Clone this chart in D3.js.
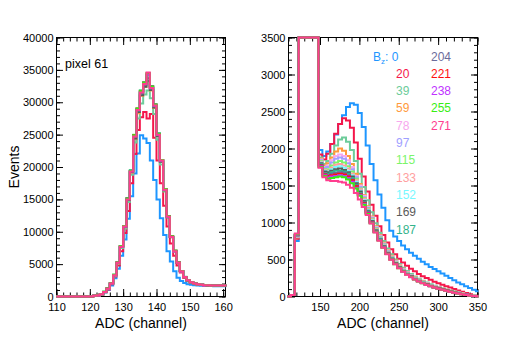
<!DOCTYPE html>
<html>
<head>
<meta charset="utf-8">
<script src="https://cdn.jsdelivr.net/npm/d3@7/dist/d3.min.js"></script>
<style>
  body { margin: 0; background: #fff; }
  text { font-family: "Liberation Sans", Arial, Helvetica, sans-serif; }
</style>
</head>
<body>
<script>
// field values (legend) and their colours, drawn in this order
var fields = ["0","20","39","59","78","97","115","133","152","169","187","204","221","238","255","271"];
var colors = ["#1e96ff","#f5164a","#6dcc9a","#ff9a3c","#f7a8ee","#a0a0ff","#7af56a","#ff9f9f",
              "#78f8ff","#5a5a5a","#33b38a","#6b6b9b","#ff1010","#c032ff","#38ee14","#ff3d8f"];

// left panel: pixel 61, 1-channel bins starting at 110
var leftStart = 110, leftWidth = 1;
var left_0   = [0,0,0,0,0,0,0,0,0,0,0, 80,180,330,600,1000,1700,2800,4300,6300,8800,12000,15500,19000,22100,24900,24400,23700,21000,18000,15000,12100,9500,7000,5400,3900,2900,2400,2100,1900,1800,1720,1680,1650,1630,1620,1610,1600,1600,1600,1600];
var left_20  = [0,0,0,0,0,0,0,0,0,0,0, 100,200,350,650,1100,1900,3100,4800,7000,9800,13200,17500,22000,25700,27700,28500,27500,28200,24500,21000,17500,14000,10800,8200,6300,4800,3700,2900,2400,2100,1950,1850,1780,1720,1700,1680,1670,1660,1660,1660];
var left_39  = [0,0,0,0,0,0,0,0,0,0,0, 100,200,350,650,1150,1950,3200,5100,7500,10500,14600,18800,23800,27500,29800,31200,31800,30600,28200,24200,20400,16200,12200,9200,7000,5200,3950,3050,2550,2250,2050,1930,1830,1770,1740,1720,1700,1690,1690,1690];
var left_59  = [0,0,0,0,0,0,0,0,0,0,0, 100,200,360,690,1180,1990,3280,5150,7650,10700,14900,19100,24400,28300,31000,32400,33200,31800,29100,24800,20800,16400,12300,9200,7000,5200,3900,3000,2520,2220,2020,1910,1810,1760,1730,1710,1700,1690,1690,1690];
var left_78  = [0,0,0,0,0,0,0,0,0,0,0, 100,210,350,700,1200,2010,3300,5200,7700,10800,15000,19200,24500,28600,31300,32600,33600,32000,29300,24900,20900,16500,12300,9200,7000,5200,3900,3000,2500,2200,2000,1900,1800,1750,1720,1700,1690,1680,1680,1680];
var left_97  = [0,0,0,0,0,0,0,0,0,0,0, 100,200,350,700,1200,2000,3300,5200,7700,10800,15100,19400,24800,28900,31600,32900,33900,32300,29500,25000,21000,16500,12300,9200,7000,5200,3900,3000,2500,2200,2000,1900,1800,1750,1720,1700,1690,1680,1680,1680];
var left_115 = [0,0,0,0,0,0,0,0,0,0,0, 110,220,370,720,1230,2050,3350,5300,7800,10900,15200,19500,25000,29100,31800,33100,34200,32500,29700,25200,21100,16600,12400,9300,7050,5250,3920,3020,2510,2210,2010,1900,1810,1760,1720,1700,1690,1690,1680,1680];
var left_133 = [0,0,0,0,0,0,0,0,0,0,0, 100,200,350,700,1200,2000,3300,5200,7700,10800,15000,19300,24600,28700,31400,32700,33800,32100,29400,24900,20900,16500,12300,9200,7000,5200,3900,3000,2500,2200,2000,1900,1800,1750,1720,1700,1690,1680,1680,1680];
var left_152 = [0,0,0,0,0,0,0,0,0,0,0, 100,210,360,710,1210,2020,3320,5250,7750,10850,15100,19400,24800,28900,31600,32900,34000,32300,29600,25100,21000,16600,12400,9250,7050,5250,3930,3020,2510,2210,2010,1910,1810,1760,1730,1710,1700,1690,1690,1690];
var left_169 = [0,0,0,0,0,0,0,0,0,0,0, 100,200,350,690,1190,1990,3280,5180,7650,10750,14900,19200,24400,28500,31100,32400,33300,31900,29200,24800,20800,16400,12250,9150,6980,5180,3890,2990,2490,2190,1990,1890,1790,1740,1710,1700,1690,1680,1680,1680];
var left_187 = [0,0,0,0,0,0,0,0,0,0,0, 110,220,370,720,1230,2040,3340,5280,7800,10900,15200,19500,24900,29000,31800,33100,34300,32500,29700,25200,21100,16600,12400,9300,7050,5250,3920,3020,2510,2210,2010,1900,1810,1760,1720,1700,1690,1690,1680,1680];
var left_204 = [0,0,0,0,0,0,0,0,0,0,0, 100,200,350,700,1200,2000,3300,5200,7700,10800,15000,19300,24700,28700,31400,32700,33700,32100,29400,25000,20900,16500,12300,9200,7000,5200,3900,3000,2500,2200,2000,1900,1800,1750,1720,1700,1690,1680,1680,1680];
var left_221 = [0,0,0,0,0,0,0,0,0,0,0, 110,210,360,710,1220,2030,3330,5250,7780,10900,15100,19400,24900,29000,31700,33000,34400,32400,29600,25100,21100,16600,12400,9250,7050,5250,3920,3010,2510,2210,2010,1900,1810,1760,1730,1710,1700,1690,1690,1690];
var left_238 = [0,0,0,0,0,0,0,0,0,0,0, 100,200,350,700,1200,2010,3310,5220,7720,10820,15050,19350,24800,28900,31600,32900,34200,32300,29500,25000,21000,16500,12300,9200,7000,5200,3900,3000,2500,2200,2000,1900,1800,1750,1720,1700,1690,1680,1680,1680];
var left_255 = [0,0,0,0,0,0,0,0,0,0,0, 110,220,360,720,1230,2040,3340,5270,7780,10880,15100,19400,24900,29000,31700,33000,34500,32400,29600,25100,21100,16600,12400,9250,7050,5250,3920,3020,2510,2210,2010,1910,1810,1760,1730,1710,1700,1690,1690,1690];
var left_271 = [0,0,0,0,0,0,0,0,0,0,0, 100,200,350,700,1200,2000,3300,5200,7700,10800,15000,19300,24700,28800,31500,32800,34600,32200,29500,25000,21000,16500,12300,9200,7000,5200,3900,3000,2500,2200,2000,1900,1800,1750,1720,1700,1690,1680,1680,1680];
var leftSeries = [left_0,left_20,left_39,left_59,left_78,left_97,left_115,left_133,left_152,left_169,left_187,left_204,left_221,left_238,left_255,left_271];

// right panel: 5-channel bins starting at 108
var rightStart = 108, rightWidth = 5;
var right_0   = [0,20,750,8800,11500,10500,8600,5800, 1980,1900,1960,2060,2190,2330,2450,2560,2610,2590,2480,2290,2040,1790,1570,1380,1200,1030,890,810,750,690,640,590,550,510,470,435,400,370,340,310,280,250,220,190,165,140,115,90,70];
var right_20  = [0,20,780,9000,11800,10800,8800,5900, 1920,1850,1930,2060,2200,2330,2410,2380,2280,2080,1860,1620,1420,1240,1090,950,830,730,640,570,510,460,415,375,340,305,275,250,225,200,180,160,140,120,100,82,65,48,32,18,10];
var right_39  = [0,20,800,9100,12000,11000,9000,6000, 1880,1790,1830,1930,2040,2120,2150,2090,1980,1830,1660,1480,1300,1140,990,860,750,650,570,500,440,390,345,305,270,240,212,188,165,145,128,112,96,82,68,55,42,30,20,11,6];
var right_59  = [0,20,800,9100,12000,11000,9000,6000, 1860,1770,1800,1880,1960,2000,1970,1900,1790,1660,1520,1370,1220,1080,950,830,725,630,550,485,425,375,330,292,258,228,202,178,157,138,121,106,91,78,65,52,40,29,19,10,5];
var right_78  = [0,20,810,9200,12100,11100,9100,6000, 1850,1750,1770,1840,1900,1920,1900,1840,1750,1630,1500,1360,1210,1070,940,820,715,620,540,475,418,368,325,288,255,225,199,175,155,136,119,104,90,77,64,51,39,28,18,10,5];
var right_97  = [0,20,810,9200,12100,11100,9100,6000, 1840,1740,1750,1810,1860,1880,1860,1800,1720,1610,1480,1340,1200,1060,930,810,705,612,533,468,412,363,320,284,251,222,196,172,152,134,117,102,88,75,62,50,38,27,17,9,5];
var right_115 = [0,20,820,9300,12200,11200,9200,6100, 1830,1720,1720,1770,1810,1830,1810,1760,1690,1590,1460,1330,1190,1050,920,800,698,606,528,463,408,359,317,281,248,219,193,170,150,132,115,100,86,73,60,48,37,26,16,9,4];
var right_133 = [0,20,820,9300,12200,11200,9200,6100, 1820,1710,1700,1740,1780,1790,1770,1730,1660,1570,1450,1320,1180,1040,910,795,692,601,523,459,404,356,314,278,245,216,191,168,148,130,113,98,85,72,59,47,36,25,16,8,4];
var right_152 = [0,20,825,9300,12300,11300,9200,6100, 1810,1700,1690,1720,1750,1760,1740,1700,1640,1550,1430,1300,1170,1030,900,788,686,596,518,455,400,352,311,275,243,214,189,166,146,128,111,97,84,71,58,46,35,25,15,8,4];
var right_169 = [0,20,825,9300,12300,11300,9200,6100, 1800,1690,1680,1700,1720,1730,1710,1680,1620,1530,1420,1290,1160,1020,895,782,681,591,514,451,396,349,308,272,240,212,187,164,144,126,110,96,83,70,57,45,34,24,15,8,4];
var right_187 = [0,20,830,9400,12400,11400,9300,6200, 1790,1670,1660,1680,1700,1700,1690,1660,1600,1510,1400,1280,1150,1010,888,776,676,587,510,447,393,346,305,270,238,210,185,163,143,125,109,95,82,69,56,44,33,23,14,7,4];
var right_204 = [0,20,830,9400,12400,11400,9300,6200, 1780,1660,1640,1660,1670,1680,1670,1640,1580,1500,1390,1270,1140,1005,882,770,671,583,507,444,390,343,303,268,236,208,184,162,142,124,108,94,81,68,55,44,33,23,14,7,4];
var right_221 = [0,20,835,9400,12400,11400,9300,6200, 1770,1650,1630,1640,1650,1660,1650,1620,1570,1490,1380,1260,1130,1000,876,765,667,579,504,441,387,341,301,266,234,207,183,161,141,123,107,93,80,67,55,43,32,22,13,7,3];
var right_238 = [0,20,835,9500,12500,11500,9400,6200, 1760,1640,1610,1620,1630,1640,1630,1600,1550,1470,1370,1250,1120,995,872,762,664,576,502,439,385,339,299,264,233,206,182,160,140,122,106,92,79,67,54,43,32,22,13,6,3];
var right_255 = [0,20,840,9500,12500,11500,9400,6200, 1750,1630,1590,1600,1610,1620,1610,1580,1530,1460,1360,1240,1115,990,868,758,660,573,500,437,383,337,297,262,231,204,180,158,139,121,105,91,78,66,53,42,31,21,12,6,3];
var right_271 = [0,20,850,9600,12600,11600,9500,6300, 1740,1610,1570,1560,1560,1550,1540,1510,1470,1400,1310,1210,1100,985,865,755,658,571,498,435,381,335,295,260,229,202,178,157,138,120,104,90,77,65,52,41,30,21,12,6,3];
var rightSeries = [right_0,right_20,right_39,right_59,right_78,right_97,right_115,right_133,right_152,right_169,right_187,right_204,right_221,right_238,right_255,right_271];

// tick labels
var leftXTicks = [110,120,130,140,150,160];
var leftYTicks = [0,5000,10000,15000,20000,25000,30000,35000,40000];
var rightXTicks = [150,200,250,300,350];
var rightYTicks = [0,500,1000,1500,2000,2500,3000,3500];

var svg = d3.select("body").append("svg")
    .attr("width", 507)
    .attr("height", 345);

var clipCount = 0;

function histPoints(vals, start, width){
    var pts = vals.map(function(v, i){ return [start + i * width, v]; });
    pts.push([start + vals.length * width, vals[vals.length - 1]]);
    return pts;
}

function styleAxis(g){
    g.select(".domain").remove();
    g.selectAll("line").attr("stroke", "#000").attr("stroke-width", 1);
    g.selectAll("text")
        .attr("font-size", 11)
        .attr("font-family", "'Liberation Sans', Arial, sans-serif")
        .attr("fill", "#000");
}

function drawPanel(p){
    var x = d3.scaleLinear().domain(p.xDomain).range([p.x0, p.x1]);
    var y = d3.scaleLinear().domain(p.yDomain).range([p.y1, p.y0]).clamp(true);
    var g = svg.append("g");

    // minor ticks (inside, all four sides)
    g.append("g").attr("transform", "translate(0," + p.y1 + ")")
        .call(d3.axisBottom(x).tickValues(p.xMinor).tickSize(-4).tickFormat("")).call(styleAxis);
    g.append("g").attr("transform", "translate(0," + p.y0 + ")")
        .call(d3.axisTop(x).tickValues(p.xMinor).tickSize(-4).tickFormat("")).call(styleAxis);
    g.append("g").attr("transform", "translate(" + p.x0 + ",0)")
        .call(d3.axisLeft(y).tickValues(p.yMinor).tickSize(-3.5).tickFormat("")).call(styleAxis);
    g.append("g").attr("transform", "translate(" + p.x1 + ",0)")
        .call(d3.axisRight(y).tickValues(p.yMinor).tickSize(-3.5).tickFormat("")).call(styleAxis);

    // major ticks with labels
    g.append("g").attr("transform", "translate(0," + p.y1 + ")")
        .call(d3.axisBottom(x).tickValues(p.xTicks).tickSize(-7.5).tickPadding(7).tickFormat(d3.format("d")))
        .call(styleAxis);
    g.append("g").attr("transform", "translate(0," + p.y0 + ")")
        .call(d3.axisTop(x).tickValues(p.xTicks).tickSize(-7.5).tickFormat("")).call(styleAxis);
    g.append("g").attr("transform", "translate(" + p.x0 + ",0)")
        .call(d3.axisLeft(y).tickValues(p.yTicks).tickSize(-6.5).tickPadding(3).tickFormat(d3.format("d")))
        .call(styleAxis);
    g.append("g").attr("transform", "translate(" + p.x1 + ",0)")
        .call(d3.axisRight(y).tickValues(p.yTicks).tickSize(-6.5).tickFormat("")).call(styleAxis);

    // frame
    g.append("rect")
        .attr("x", p.x0).attr("y", p.y0)
        .attr("width", p.x1 - p.x0).attr("height", p.y1 - p.y0)
        .attr("fill", "none").attr("stroke", "#000").attr("stroke-width", 1);

    var clipId = "clip" + (clipCount++);
    svg.append("clipPath").attr("id", clipId)
        .append("rect")
        .attr("x", p.x0 - 1).attr("y", p.y0 - 1.5)
        .attr("width", p.x1 - p.x0 + 2).attr("height", p.y1 - p.y0 + 3);

    var line = d3.line()
        .x(function(d){ return x(d[0]); })
        .y(function(d){ return y(d[1]); })
        .curve(d3.curveStepAfter);

    g.append("g").attr("clip-path", "url(#" + clipId + ")")
        .selectAll(".hist")
        .data(p.series)
        .enter()
        .append("path")
        .attr("class", "hist")
        .attr("d", function(d){ return line(histPoints(d, p.start, p.width)); })
        .attr("fill", "none")
        .attr("stroke", function(d, i){ return colors[i]; })
        .attr("stroke-width", 2)
        .attr("stroke-linejoin", "miter");

    // x axis title
    g.append("text")
        .attr("x", (p.x0 + p.x1) / 2)
        .attr("y", 328)
        .attr("text-anchor", "middle")
        .attr("font-size", 14)
        .text("ADC (channel)");
}

drawPanel({
    x0: 56.5, x1: 225.5, y0: 37.5, y1: 296.5,
    xDomain: [110, 160.7], yDomain: [0, 40000],
    xTicks: leftXTicks, yTicks: leftYTicks,
    xMinor: d3.range(110, 161, 2), yMinor: d3.range(0, 40001, 1000),
    series: leftSeries, start: leftStart, width: leftWidth
});

drawPanel({
    x0: 288.5, x1: 477.5, y0: 37.5, y1: 296.5,
    xDomain: [110, 350], yDomain: [0, 3500],
    xTicks: rightXTicks, yTicks: rightYTicks,
    xMinor: d3.range(110, 351, 10), yMinor: d3.range(0, 3501, 100),
    series: rightSeries, start: rightStart, width: rightWidth
});

// y axis title
svg.append("text")
    .attr("transform", "translate(19,167) rotate(-90)")
    .attr("text-anchor", "middle")
    .attr("font-size", 14)
    .text("Events");

// panel label
svg.append("text")
    .attr("x", 65)
    .attr("y", 68)
    .attr("font-size", 12.5)
    .text("pixel 61");

// legend: two columns of field values
var legend = svg.append("g").attr("class", "legend");
fields.forEach(function(f, i){
    var col = i < 11 ? 0 : 1;
    var row = i < 11 ? i : i - 11;
    var t = legend.append("text")
        .attr("y", 60.5 + row * 17.33)
        .attr("font-size", 12)
        .attr("fill", colors[i]);
    if (i === 0) {
        t.attr("x", 373);
        t.append("tspan").text("B");
        t.append("tspan").attr("font-size", 8).attr("dy", 3).text("z");
        t.append("tspan").attr("dy", -3).text(": " + f);
    } else {
        t.attr("x", col === 0 ? 396 : 431).text(f);
    }
});
</script>
</body>
</html>
